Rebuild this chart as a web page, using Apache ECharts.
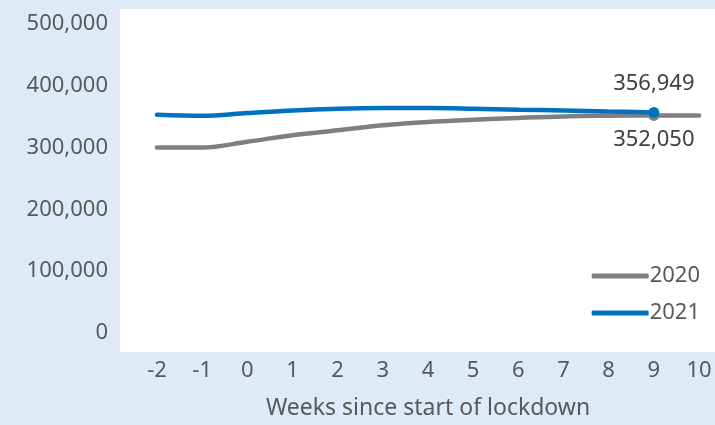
<!DOCTYPE html>
<html>
<head>
<meta charset="utf-8">
<script src="https://cdn.jsdelivr.net/npm/echarts@6/dist/echarts.min.js"></script>
<style>
html,body{margin:0;padding:0;background:#deeaf6;}
#c{width:715px;height:425px;}
</style>
</head>
<body>
<div id="c"></div>
<script>
var weeks = ['-2','-1','0','1','2','3','4','5','6','7','8','9','10'];
var s2020 = [300000,300000,309500,320000,328000,336000,341500,345000,348000,350500,351500,352050,352100];
var s2021 = [353200,351600,355900,360100,362800,363900,363900,362800,361200,360100,358500,356949,null];
var yTicks = [0,100000,200000,300000,400000,500000];
var labelIndex = 11;

var font = 'Noto Sans';
var txt = '#595959';
function fmt(v){return v.toLocaleString('en-US');}
function build(arr, pos){
  return arr.map(function(v,i){
    if(i===labelIndex){
      return {value:v, symbolSize:11,
        label:{show:true, position:pos, distance: pos==='top'?12:8, formatter:function(p){return fmt(p.value);},
          fontFamily:font, fontSize:22, color:'#404040'}};
    }
    return {value:v, symbolSize:0};
  });
}

var chart = echarts.init(document.getElementById('c'));
chart.setOption({
  backgroundColor:'#deeaf6',
  animation:false,
  grid:[
    {left:120, top:9, right:0, bottom:73, show:true, backgroundColor:'#ffffff', borderWidth:0},
    {left:157, top:24, right:16, bottom:88}
  ],
  xAxis:[
    {gridIndex:0, type:'value', show:false, min:0, max:1},
    {gridIndex:1, type:'category', data:weeks, boundaryGap:false,
      axisLine:{show:false}, axisTick:{show:false},
      axisLabel:{fontFamily:font, fontSize:22, color:txt, margin:27},
      name:'Weeks since start of lockdown', nameLocation:'middle', nameGap:64,
      nameTextStyle:{fontFamily:font, fontSize:23, color:txt}}
  ],
  yAxis:[
    {gridIndex:0, type:'value', show:false, min:0, max:1},
    {gridIndex:1, type:'value', min:yTicks[0], max:yTicks[yTicks.length-1], interval:100000,
      axisLine:{show:false}, axisTick:{show:false}, splitLine:{show:false},
      axisLabel:{fontFamily:font, fontSize:22, color:txt, margin:49,
        formatter:function(v){return fmt(v);}}}
  ],
  legend:{
    orient:'vertical', right:10, top:260, itemWidth:57, itemHeight:5, itemGap:15,
    icon:'roundRect',
    textStyle:{fontFamily:font, fontSize:22, color:txt, padding:[0,0,0,-4]},
    data:['2020','2021']
  },
  series:[
    {name:'2020', type:'line', xAxisIndex:1, yAxisIndex:1, data:build(s2020,'bottom'),
      smooth:0.35, symbol:'circle', showAllSymbol:true,
      lineStyle:{color:'#7f7f7f', width:4.5, cap:'round'}, itemStyle:{color:'#7f7f7f'}},
    {name:'2021', type:'line', xAxisIndex:1, yAxisIndex:1, data:build(s2021,'top'),
      smooth:0.35, symbol:'circle', showAllSymbol:true,
      lineStyle:{color:'#0070c0', width:4.5, cap:'round'}, itemStyle:{color:'#0070c0'}}
  ]
});
</script>
</body>
</html>
